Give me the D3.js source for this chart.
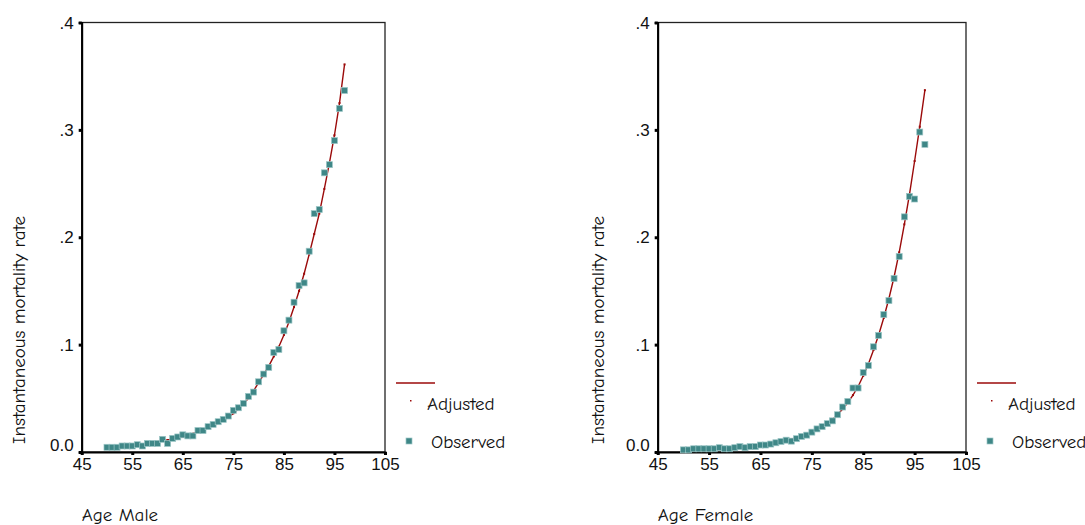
<!DOCTYPE html>
<html><head><meta charset="utf-8">
<script src="https://cdn.jsdelivr.net/npm/d3@7"></script>
<style>
html,body{margin:0;padding:0;background:#fff;}
svg{display:block;}
</style></head>
<body>
<svg id="chart" width="1085" height="525"></svg>
<script>
const ages = d3.range(50, 98);
const maleObserved = [0.0044,0.0044,0.0044,0.0056,0.0056,0.0056,0.0068,0.0056,0.008,0.008,
  0.008,0.0118,0.008,0.0127,0.014,0.016,0.015,0.015,0.020,0.020,
  0.0236,0.0257,0.0282,0.0304,0.0335,0.0388,0.0412,0.0453,0.0518,0.0558,
  0.0654,0.0726,0.0788,0.0927,0.0955,0.1129,0.1228,0.1395,0.155,0.1575,
  0.187,0.222,0.2258,0.260,0.2676,0.290,0.320,0.3367];
const maleAdjusted = [0.0040,0.0044,0.0048,0.0052,0.0057,0.0062,0.0067,0.0073,0.0080,0.0087,
  0.0095,0.0103,0.0112,0.0122,0.0133,0.0143,0.0155,0.0170,0.0187,0.0205,
  0.0225,0.0245,0.0270,0.0295,0.0325,0.0360,0.0400,0.0450,0.0500,0.0570,
  0.0645,0.0720,0.0800,0.0890,0.0980,0.1090,0.1210,0.1350,0.1500,0.1660,
  0.1840,0.2030,0.2220,0.2450,0.2690,0.2950,0.3250,0.3610];
const femaleObserved = [0.002,0.002,0.003,0.003,0.003,0.003,0.003,0.004,0.003,0.003,
  0.004,0.005,0.004,0.005,0.005,0.0065,0.0065,0.0074,0.0086,0.0098,
  0.011,0.0101,0.0124,0.0145,0.0157,0.0185,0.0215,0.0236,0.0264,0.029,
  0.0347,0.0419,0.0471,0.0596,0.0596,0.074,0.0805,0.098,0.1086,0.128,
  0.141,0.1616,0.182,0.219,0.238,0.2356,0.298,0.2865];
const femaleAdjusted = [0.0020,0.0022,0.0024,0.0026,0.0029,0.0031,0.0034,0.0037,0.0040,0.0044,
  0.0048,0.0052,0.0057,0.0062,0.0067,0.0070,0.0076,0.0084,0.0093,0.0102,
  0.0110,0.0120,0.0133,0.0146,0.0162,0.0185,0.0210,0.0234,0.0260,0.0300,
  0.0350,0.0400,0.0460,0.0530,0.0610,0.0710,0.0820,0.0950,0.1090,0.1250,
  0.1430,0.1630,0.1860,0.2120,0.2400,0.2710,0.3030,0.3370];
const xTicks = [45,55,65,75,85,95,105];
const yTicks = [0,0.1,0.2,0.3,0.4];
const yTickLabels = ["0.0",".1",".2",".3",".4"];
const xTitles = ["Age Male","Age Female"];
const yTitle = "Instantaneous mortality rate";
const legendLabels = ["Adjusted","Observed"];

const svg = d3.select("#chart");
const labelFont = "'Comic Sans MS','Comic Neue','DejaVu Sans',sans-serif";
const tickFont = "'Liberation Sans',Arial,sans-serif";
const lineColor = "#9b0a0a";
const markFill = "#3f8787";
const markStroke = "#9cc6c6";

function panel(cfg){
  const g = svg.append("g");
  const x = d3.scaleLinear().domain([45,105]).range([cfg.x0, cfg.x1]);
  const y = d3.scaleLinear().domain([0,0.4]).range([452, 22.5]);

  // frame
  g.append("rect").attr("x",cfg.x0).attr("y",y(0.4)).attr("width",cfg.x1-cfg.x0).attr("height",y(0)-y(0.4))
    .attr("fill","none").attr("stroke","#222").attr("stroke-width",1.3);

  // y axis
  const ya = g.append("g").attr("transform",`translate(${cfg.x0},0)`)
    .call(d3.axisLeft(y).tickValues(yTicks).tickSize(3).tickFormat((d,i)=>yTickLabels[i]));
  ya.select(".domain").attr("stroke","#000").attr("stroke-width",2);
  ya.selectAll(".tick line").attr("stroke","#000").attr("stroke-width",3);
  ya.selectAll(".tick text").attr("font-family",tickFont).attr("font-size",17).attr("fill","#111")
    .attr("x",-8).attr("dy",(d)=> d===0 ? "-0.1em" : "0.33em");

  // x axis
  const xa = g.append("g").attr("transform",`translate(0,${y(0)})`)
    .call(d3.axisBottom(x).tickValues(xTicks).tickSize(3).tickFormat(d3.format("d")));
  xa.select(".domain").attr("stroke","#000").attr("stroke-width",2);
  xa.selectAll(".tick line").attr("stroke","#000").attr("stroke-width",3);
  xa.selectAll(".tick text").attr("font-family",tickFont).attr("font-size",17).attr("fill","#111").attr("y",6);

  // adjusted line
  const pts = ages.map((a,i)=>[a,cfg.adj[i]]);
  g.append("path").datum(pts)
    .attr("d", d3.line().x(d=>x(d[0])).y(d=>y(d[1])))
    .attr("fill","none").attr("stroke",lineColor).attr("stroke-width",1.4);
  g.selectAll(".adjdot").data(pts).enter().append("rect")
    .attr("x",d=>x(d[0])-1).attr("y",d=>y(d[1])-1).attr("width",2).attr("height",2).attr("fill",lineColor);

  // observed
  g.selectAll(".obs").data(ages.map((a,i)=>[a,cfg.obs[i]])).enter().append("rect")
    .attr("x",d=>x(d[0])-3).attr("y",d=>y(d[1])-3).attr("width",6).attr("height",6)
    .attr("fill",markFill).attr("stroke",markStroke).attr("stroke-width",0.7);

  // titles
  g.append("text").attr("x",cfg.x0).attr("y",521).text(cfg.xTitle)
    .attr("font-family",labelFont).attr("font-size",19).attr("fill","#111").attr("font-weight",500);
  g.append("text").attr("transform",`translate(${cfg.yTitleX},330) rotate(-90)`)
    .attr("text-anchor","middle").attr("dy","0.35em").text(yTitle)
    .attr("font-family",labelFont).attr("font-size",19).attr("fill","#111").attr("font-weight",500);

  // legend
  const lx = cfg.x1;
  g.append("line").attr("x1",lx+11).attr("x2",lx+50).attr("y1",383).attr("y2",383)
    .attr("stroke",lineColor).attr("stroke-width",1.3);
  g.append("rect").attr("x",lx+25).attr("y",400).attr("width",1.5).attr("height",1.5).attr("fill",lineColor);
  g.append("text").attr("x",lx+42).attr("y",403).attr("dy","0.35em").text(legendLabels[0])
    .attr("font-family",labelFont).attr("font-size",19).attr("fill","#111").attr("font-weight",500);
  g.append("rect").attr("x",lx+21).attr("y",438).attr("width",6).attr("height",6)
    .attr("fill",markFill).attr("stroke",markStroke).attr("stroke-width",0.7);
  g.append("text").attr("x",lx+46).attr("y",441).attr("dy","0.35em").text(legendLabels[1])
    .attr("font-family",labelFont).attr("font-size",19).attr("fill","#111").attr("font-weight",500);
}

panel({x0:81.7, x1:385, obs:maleObserved, adj:maleAdjusted, xTitle:xTitles[0], yTitleX:18});
panel({x0:657.7, x1:966, obs:femaleObserved, adj:femaleAdjusted, xTitle:xTitles[1], yTitleX:597});
</script>
</body></html>
